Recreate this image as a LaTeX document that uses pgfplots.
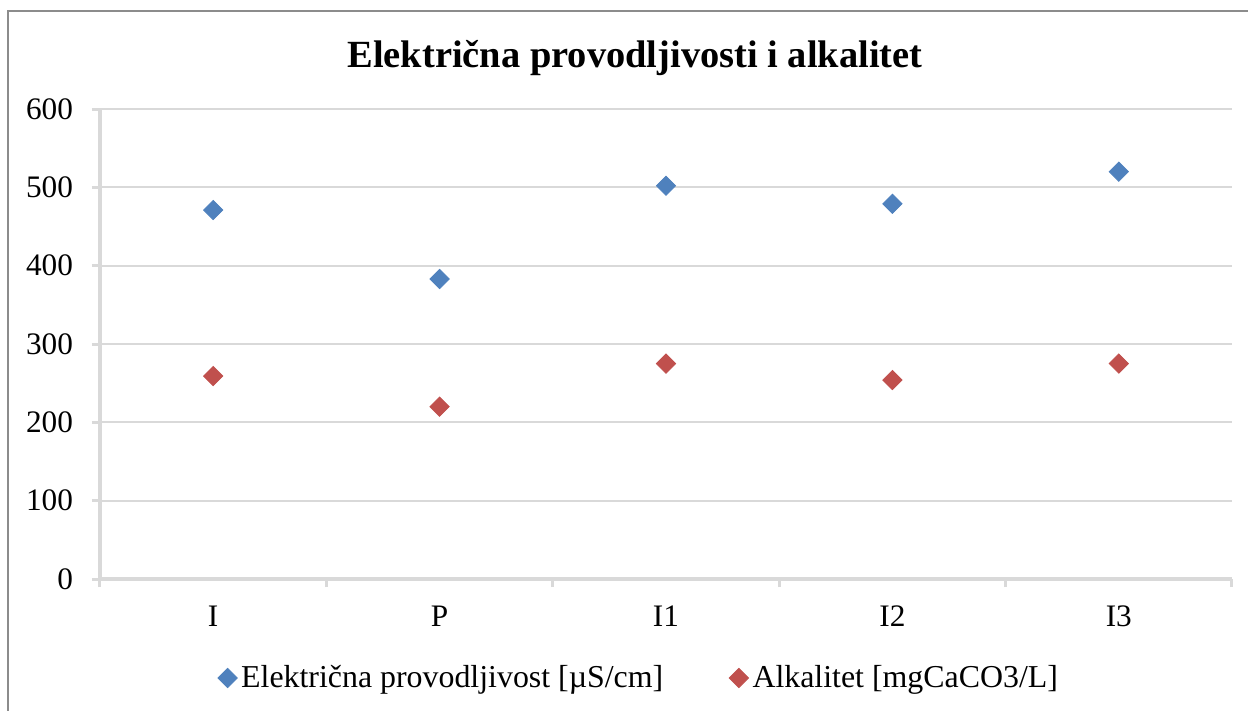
\documentclass[border=0pt]{standalone}
\usepackage{pgfplots}
\pgfplotsset{compat=1.18}
\usepackage{fontspec}
\setmainfont{Liberation Serif}
\definecolor{cblue}{RGB}{79,129,189}
\definecolor{cred}{RGB}{192,80,77}
\definecolor{cgrid}{RGB}{217,217,217}
\definecolor{cframe}{RGB}{140,140,140}
\begin{document}
\begin{tikzpicture}
\useasboundingbox (-50bp,-66bp) rectangle (574bp,289.5bp);
\draw[cframe, line width=1bp] (580bp,284bp) -- (-46bp,284bp) -- (-46bp,-70bp);
\begin{axis}[
  at={(0,0)}, anchor=south west,
  scale only axis, width=566bp, height=235bp,
  xmin=-0.5, xmax=4.5, ymin=0, ymax=600,
  xtick={-0.5,0.5,...,4.5}, x tick label as interval,
  xticklabels={I,P,I1,I2,I3},
  ytick={0,100,...,600},
  axis x line=bottom, axis y line=left,
  axis line style={draw=cgrid, line width=2bp, -},
  tick align=outside, major tick length=4bp,
  tick style={draw=cgrid, line width=1.5bp},
  ymajorgrids, grid style={draw=cgrid, line width=1bp},
  /pgf/number format/assume math mode=true,
  tick label style={font=\fontsize{15.7}{18}\selectfont},
  yticklabel style={xshift=-6bp},
  xticklabel style={yshift=-6bp},
  title={Električna provodljivosti i alkalitet},
  title style={at={(0.4726,1.083)}, anchor=center, font=\bfseries\fontsize{19.3}{23}\selectfont},
  legend style={at={(0.477,-0.2106)}, anchor=center, draw=none, legend columns=2,
    font=\fontsize{16}{19}\selectfont,
    /tikz/every even column/.append style={column sep=31bp}},
  legend cell align=left,
]
\addplot[only marks, mark=square*, mark size=3.4bp, mark options={rotate=45, fill=cblue, draw=cblue}]
  coordinates {(0,471) (1,383) (2,502) (3,479) (4,520)};
\addlegendentry{Električna provodljivost [µS/cm]}
\addplot[only marks, mark=square*, mark size=3.4bp, mark options={rotate=45, fill=cred, draw=cred}]
  coordinates {(0,259) (1,220) (2,275) (3,254) (4,275)};
\addlegendentry{Alkalitet [mgCaCO3/L]}
\end{axis}
\end{tikzpicture}
\end{document}
